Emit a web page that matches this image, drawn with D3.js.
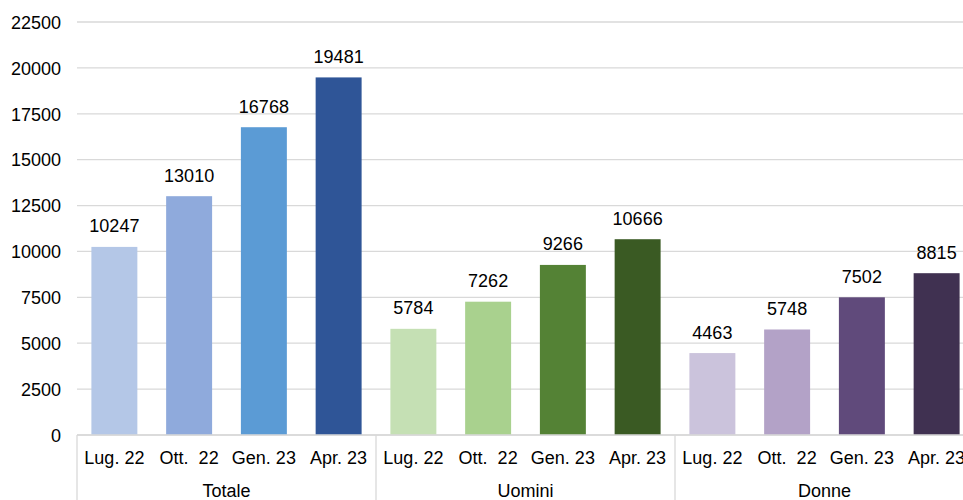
<!DOCTYPE html>
<html><head><meta charset="utf-8">
<script src="https://cdn.jsdelivr.net/npm/d3@7"></script>
<style>body{margin:0;background:#fff;}svg{display:block;font-family:"Liberation Sans",Arial,sans-serif;}</style>
</head><body>
<svg id="c" width="963" height="500"></svg>
<script>
const groups = ["Totale", "Uomini", "Donne"];
const periods = ["Lug. 22", "Ott.  22", "Gen. 23", "Apr. 23"];
const totale = [10247, 13010, 16768, 19481];
const uomini = [5784, 7262, 9266, 10666];
const donne = [4463, 5748, 7502, 8815];
const colorsTotale = ["#b4c7e7", "#8faadc", "#5b9bd5", "#2f5597"];
const colorsUomini = ["#c5e0b4", "#a9d18e", "#548235", "#3a5a23"];
const colorsDonne = ["#cbc3dc", "#b3a2c7", "#604a7b", "#403151"];
const yTicks = [0, 2500, 5000, 7500, 10000, 12500, 15000, 17500, 20000, 22500];

const seriesValues = [totale, uomini, donne];
const seriesColors = [colorsTotale, colorsUomini, colorsDonne];
const data = [];
groups.forEach((g, gi) => periods.forEach((p, pi) => data.push({key: g + "|" + pi, group: g, period: p, value: seriesValues[gi][pi], color: seriesColors[gi][pi]})));

const svg = d3.select("#c");
const mLeft = 77, mRight = 974, mTop = 22, mBottom = 435;
const FS = 18;
const x = d3.scaleBand().domain(data.map(d => d.key)).range([mLeft, mRight]).paddingInner(0.385).paddingOuter(0.1925);
const xGroup = d3.scaleBand().domain(groups).range([mLeft, mRight]);
const y = d3.scaleLinear().domain([0, 22500]).range([mBottom, mTop]);

// gridlines
svg.append("g").selectAll("line").data(yTicks).join("line")
  .attr("x1", mLeft).attr("x2", 963).attr("y1", d => y(d)).attr("y2", d => y(d))
  .attr("stroke", "#d9d9d9").attr("stroke-width", 1.3);

// y axis labels
const yAxis = d3.axisLeft(y).tickValues(yTicks).tickSize(0).tickPadding(0).tickFormat(d3.format("d"));
const ya = svg.append("g").attr("transform", `translate(${mLeft - 16},0)`).call(yAxis)
  .attr("font-family", "Liberation Sans, Arial, sans-serif").attr("font-size", FS);
ya.select(".domain").remove();
ya.selectAll("text").attr("fill", "#000").attr("dy", "0.35em");

// bars
svg.append("g").selectAll("rect").data(data).join("rect")
  .attr("x", d => x(d.key)).attr("width", x.bandwidth())
  .attr("y", d => y(d.value)).attr("height", d => y(0) - y(d.value))
  .attr("fill", d => d.color);

// value labels
svg.append("g").selectAll("text").data(data).join("text")
  .attr("x", d => x(d.key) + x.bandwidth() / 2).attr("y", d => y(d.value) - 14.5)
  .attr("text-anchor", "middle").attr("font-size", FS).attr("fill", "#000")
  .text(d => d.value);

// x axis baseline
svg.append("line").attr("x1", mLeft).attr("x2", 963).attr("y1", mBottom).attr("y2", mBottom)
  .attr("stroke", "#d9d9d9").attr("stroke-width", 1.3);

// group separators
const seps = groups.map(g => xGroup(g)).concat([mRight]);
svg.append("g").selectAll("line").data(seps).join("line")
  .attr("x1", d => d).attr("x2", d => d).attr("y1", mBottom).attr("y2", 500)
  .attr("stroke", "#d9d9d9").attr("stroke-width", 1.3);

// category labels
svg.append("g").selectAll("text").data(data).join("text")
  .attr("x", d => x(d.key) + x.bandwidth() / 2).attr("y", 463.5)
  .attr("text-anchor", "middle").attr("font-size", FS).attr("fill", "#000")
  .attr("xml:space", "preserve").style("white-space", "pre")
  .text(d => d.period);

// group labels
svg.append("g").selectAll("text").data(groups).join("text")
  .attr("x", d => xGroup(d) + xGroup.bandwidth() / 2).attr("y", 497)
  .attr("text-anchor", "middle").attr("font-size", FS).attr("fill", "#000")
  .text(d => d);
</script>
</body></html>
